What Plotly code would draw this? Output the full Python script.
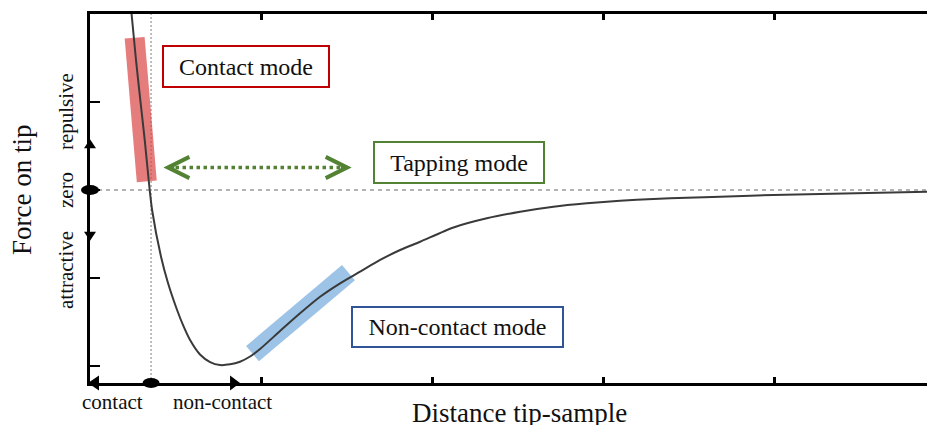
import plotly.graph_objects as go

# ---- data (x: distance units, y: force units) ----
curve_x = [0.243, 0.269, 0.294, 0.320, 0.343, 0.363, 0.417, 0.456, 0.507,
           0.546, 0.585, 0.643, 0.702, 0.760, 0.819, 0.877, 0.936, 0.994, 1.111,
           1.228, 1.345, 1.462, 1.579, 1.696, 1.813, 1.930, 2.125, 2.320, 2.515,
           2.709, 2.905, 3.099, 3.294, 3.489, 3.684, 3.994, 4.942]
curve_y = [2.000, 1.477, 1.023, 0.568, 0.114, -0.227, -0.773, -1.057, -1.352,
           -1.545, -1.705, -1.869, -1.955, -1.989, -1.981, -1.951, -1.892, -1.807, -1.602,
           -1.401, -1.213, -1.060, -0.928, -0.795, -0.682, -0.588, -0.426, -0.322, -0.247,
           -0.190, -0.151, -0.122, -0.102, -0.088, -0.076, -0.057, -0.019]

contact_band_x = [0.261, 0.332]
contact_band_y = [1.730, 0.099]
noncontact_band_x = [0.950, 1.511]
noncontact_band_y = [-1.860, -0.9375]

tapping_arrow_x = [0.429, 1.530]
tapping_arrow_y = [0.256, 0.256]

contact_point_x = 0.357
x_ticks = [1, 2, 3, 4]
y_ticks = [-2, -1, 0, 1, 2]
x_range = [0, 4.94]
y_range = [-2.193, 2.0]

mode_labels = ["Contact mode", "Tapping mode", "Non-contact mode"]
mode_label_x = [0.912, 2.158, 2.149]
mode_label_y = [1.403, 0.318, -1.557]
mode_colors = ["#C00000", "#548235", "#2F5597"]
side_labels_y = ["repulsive", "zero", "attractive"]
side_labels_y_pos = [0.886, 0.0, -0.909]
bottom_labels = ["contact", "non-contact"]
bottom_labels_x = [0.129, 0.772]

FONT = "Liberation Serif"
GREEN = "#548235"

fig = go.Figure()

fig.add_trace(go.Scatter(x=contact_band_x, y=contact_band_y, mode="lines",
                         line=dict(color="rgba(220,70,70,0.7)", width=20),
                         hoverinfo="skip", showlegend=False))
fig.add_trace(go.Scatter(x=noncontact_band_x, y=noncontact_band_y, mode="lines",
                         line=dict(color="rgba(91,155,213,0.6)", width=20),
                         hoverinfo="skip", showlegend=False))
fig.add_trace(go.Scatter(x=curve_x, y=curve_y, mode="lines",
                         line=dict(color="#3a3a3a", width=2, shape="spline", smoothing=0.7),
                         hoverinfo="skip", showlegend=False))


def yp(v):
    return (v - y_range[0]) / (y_range[1] - y_range[0])


def xp(v):
    return (v - x_range[0]) / (x_range[1] - x_range[0])


shapes = []
# reference lines
shapes.append(dict(type="line", xref="x", yref="paper", x0=contact_point_x, x1=contact_point_x,
                   y0=0, y1=1, line=dict(color="#aaaaaa", width=1.5, dash="2px,2px"), layer="below"))
shapes.append(dict(type="line", xref="paper", yref="y", x0=0, x1=1, y0=0, y1=0,
                   line=dict(color="#999999", width=1.3, dash="4px,4px"), layer="below"))
# tapping dotted line
shapes.append(dict(type="line", xref="x", yref="y", x0=tapping_arrow_x[0] + 0.03, x1=tapping_arrow_x[1] - 0.03,
                   y0=tapping_arrow_y[0], y1=tapping_arrow_y[1],
                   line=dict(color=GREEN, width=3.5, dash="dot")))

# ellipses on axes
for xa, ya, w, h in [(0, yp(0), 18, 10), (xp(contact_point_x), 0, 17, 10)]:
    shapes.append(dict(type="circle", xref="paper", yref="paper", xsizemode="pixel", ysizemode="pixel",
                       xanchor=xa, yanchor=ya, x0=-w / 2, x1=w / 2, y0=-h / 2, y1=h / 2,
                       fillcolor="black", line=dict(width=0), layer="above"))
# triangles on axes (paths in pixels relative to anchor)
tri_specs = [
    (0, yp(0.52), "M-6,-4 L6,-4 L0,5 Z"),
    (0, yp(-0.52), "M-6,4 L6,4 L0,-5 Z"),
    (0, 0, "M-2,0 L9,7.5 L9,-7.5 Z"),
    (xp(0.848), 0, "M5,0 L-5,7.5 L-5,-7.5 Z"),
]
for xa, ya, p in tri_specs:
    shapes.append(dict(type="path", xref="paper", yref="paper", xsizemode="pixel", ysizemode="pixel",
                       xanchor=xa, yanchor=ya, path=p, fillcolor="black", line=dict(width=0)))

annotations = []
# chevrons of tapping arrow
annotations.append(dict(x=tapping_arrow_x[0], y=tapping_arrow_y[0], xref="x", yref="y", ax=12, ay=0,
                        text="", showarrow=True, arrowhead=5, arrowwidth=3, arrowsize=1.4, arrowcolor=GREEN))
annotations.append(dict(x=tapping_arrow_x[1], y=tapping_arrow_y[1], xref="x", yref="y", ax=-12, ay=0,
                        text="", showarrow=True, arrowhead=5, arrowwidth=3, arrowsize=1.4, arrowcolor=GREEN))
# mode boxes
box_sizes = [(164, 39), (168, 39), (209, 38)]
for t, xv, yv, c, (w, h) in zip(mode_labels, mode_label_x, mode_label_y, mode_colors, box_sizes):
    annotations.append(dict(x=xv, y=yv, xref="x", yref="y", text=t, showarrow=False,
                            font=dict(family=FONT, size=24, color="#111111"),
                            bordercolor=c, borderwidth=2, borderpad=0, bgcolor="white",
                            width=w, height=h, align="center", valign="middle"))
# side labels
for t, yv in zip(side_labels_y, side_labels_y_pos):
    annotations.append(dict(x=0, y=yv, xref="paper", yref="y", xshift=-24, text=t, textangle=-90,
                            showarrow=False, font=dict(family=FONT, size=21, color="#111111"),
                            xanchor="center", yanchor="middle"))
for t, xv in zip(bottom_labels, bottom_labels_x):
    annotations.append(dict(x=xv, y=0, xref="x", yref="paper", yshift=-19, text=t,
                            showarrow=False, font=dict(family=FONT, size=21, color="#111111"),
                            xanchor="center", yanchor="middle"))
# axis titles
annotations.append(dict(x=0, y=0, xref="paper", yref="y", xshift=-68, text="Force on tip", textangle=-90,
                        showarrow=False, font=dict(family=FONT, size=27, color="#111111"),
                        xanchor="center", yanchor="middle"))
annotations.append(dict(x=2.509, y=0, xref="x", yref="paper", yshift=-30, text="Distance tip-sample",
                        showarrow=False, font=dict(family=FONT, size=27, color="#111111"),
                        xanchor="center", yanchor="middle"))

# page body has an 8px margin: figure is sized/offset to land on the 935x425 window
fig.update_layout(
    width=927, height=417,
    margin=dict(l=82, r=0, t=6, b=42),
    plot_bgcolor="white", paper_bgcolor="white",
    shapes=shapes, annotations=annotations,
    xaxis=dict(range=x_range, showgrid=False, zeroline=False, showline=True, linecolor="black",
               linewidth=3, mirror="ticks", ticks="inside", ticklen=6, tickwidth=2.5, tickcolor="black",
               tickvals=x_ticks, showticklabels=False),
    yaxis=dict(range=y_range, showgrid=False, zeroline=False, showline=True, linecolor="black",
               linewidth=3, mirror=False, ticks="inside", ticklen=10, tickwidth=2, tickcolor="black",
               tickvals=y_ticks, showticklabels=False),
)

fig.write_html("out.html")
